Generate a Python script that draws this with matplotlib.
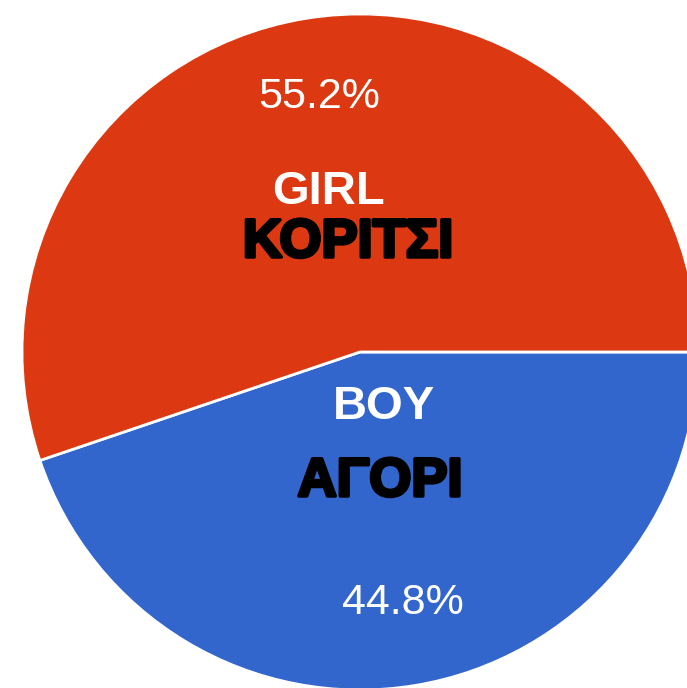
import matplotlib
matplotlib.use("Agg")
import matplotlib.pyplot as plt
import matplotlib.patheffects as pe

categories_gr = ["ΑΓΟΡΙ", "ΚΟΡΙΤΣΙ"]
categories_en = ["BOY", "GIRL"]
values = [44.8, 55.2]
colors = ["#3366CC", "#DC3912"]

W, H = 687, 688
fig = plt.figure(figsize=(W / 100, H / 100), dpi=100)
ax = fig.add_axes([0, 0, 1, 1])
cx, cy, r = 360, 352, 338

ax.pie(values, colors=colors, startangle=0, counterclock=False, radius=1,
       wedgeprops=dict(edgecolor="white", linewidth=2))
ax.set_xlim(-cx / r, (W - cx) / r)
ax.set_ylim(-(H - cy) / r, cy / r)
ax.set_aspect("equal")
ax.axis("off")

def px(x, y):
    return x / W, 1 - y / H

font = "Liberation Sans"
heavy = [pe.withStroke(linewidth=2.5, foreground="black")]

# percent labels
fig.text(*px(319, 97), f"{values[1]:.1f}%", color="white", fontsize=31,
         family=font, ha="center", va="center")
fig.text(*px(403, 603), f"{values[0]:.1f}%", color="white", fontsize=31,
         family=font, ha="center", va="center")

# English labels
fig.text(*px(328, 192), categories_en[1], color="white", fontsize=34,
         family=font, weight="bold", ha="center", va="center")
fig.text(*px(384, 407), categories_en[0], color="white", fontsize=34,
         family=font, weight="bold", ha="center", va="center")

# Greek labels
fig.text(*px(348, 243), categories_gr[1], color="black", fontsize=39,
         family=font, weight="bold", ha="center", va="center", path_effects=heavy)
fig.text(*px(380, 482), categories_gr[0], color="black", fontsize=39,
         family=font, weight="bold", ha="center", va="center", path_effects=heavy)

fig.savefig("out.png", dpi=100)
